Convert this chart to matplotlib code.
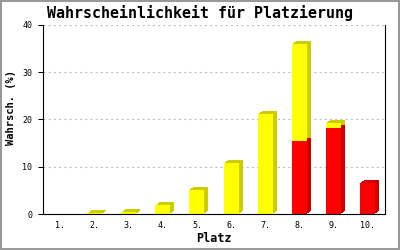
import numpy as np
import matplotlib
matplotlib.use("Agg")
import matplotlib.pyplot as plt
import matplotlib.patches as mpatches
import matplotlib.transforms as mtransforms

# ── data ──────────────────────────────────────────────────────────────────────
places = ["1.", "2.", "3.", "4.", "5.", "6.", "7.", "8.", "9.", "10."]
red_part = [0, 0, 0, 0, 0, 0, 0, 15.4, 18.3, 6.6]
yellow_part = [0, 0.12, 0.35, 1.8, 5.1, 10.8, 21.2, 20.6, 1.0, 0]
yticks = [0, 10, 20, 30, 40]

YELLOW, YELLOW_SIDE = "#FFFF00", "#CCCC00"
RED, RED_SIDE = "#FF0000", "#CC0000"
MONO = "DejaVu Sans Mono"

fig = plt.figure(figsize=(4, 2.5), dpi=100)
fig.patch.set_facecolor("white")
ax = fig.add_axes([43 / 400, 1 - 214 / 250, 342 / 400, 189 / 250])

x = np.arange(len(places))
red = np.array(red_part)
yel = np.array(yellow_part)
w = 0.44

# depth faces: stacked shifted copies give the stepped 3D look
for k in range(1, 5):
    off = mtransforms.ScaledTranslation(k / 100, 0.75 * k / 100, fig.dpi_scale_trans)
    for bars in (ax.bar(x, red, w, color=RED_SIDE, lw=0, zorder=2),
                 ax.bar(x, yel, w, bottom=red, color=YELLOW_SIDE, lw=0, zorder=2)):
        for p in bars:
            p.set_transform(ax.transData + off)

# front faces
ax.bar(x, red, w, color=RED, lw=0, zorder=3)
ax.bar(x, yel, w, bottom=red, color=YELLOW, lw=0, zorder=3)

for v in yticks[1:]:
    ax.axhline(v, color="#bbbbbb", lw=0.75, ls=(0, (2, 3)), zorder=1)

ax.set_xlim(-0.5, len(places) - 0.5)
ax.set_ylim(0, 40)
ax.set_yticks(yticks)
ax.set_xticks(x)
ax.set_xticklabels(places, fontsize=6, fontfamily=MONO)
ax.set_yticklabels([str(v) for v in yticks], fontsize=6, fontfamily=MONO)
ax.tick_params(axis="y", length=3.6, width=0.75, pad=4)
ax.tick_params(axis="x", length=0, pad=5)

ax.spines["top"].set_visible(False)
for s in ("left", "bottom", "right"):
    ax.spines[s].set_linewidth(0.8)
    ax.spines[s].set_zorder(5)

fig.text(0.5, 1 - 13 / 250, "Wahrscheinlichkeit für Platzierung",
         ha="center", va="center", fontsize=10.8, fontweight="bold", fontfamily=MONO)
fig.text(11 / 400, 1 - 108 / 250, "Wahrsch. (%)", rotation=90,
         ha="center", va="center", fontsize=7.5, fontweight="bold", fontfamily=MONO)
fig.text(214 / 400, 1 - 239 / 250, "Platz",
         ha="center", va="center", fontsize=8.5, fontweight="bold", fontfamily=MONO)

fig.patches.append(mpatches.Rectangle((0, 0), 1, 1, transform=fig.transFigure,
                                      fill=False, edgecolor="#999999", lw=2.9))

fig.savefig("out.png", dpi=100)
